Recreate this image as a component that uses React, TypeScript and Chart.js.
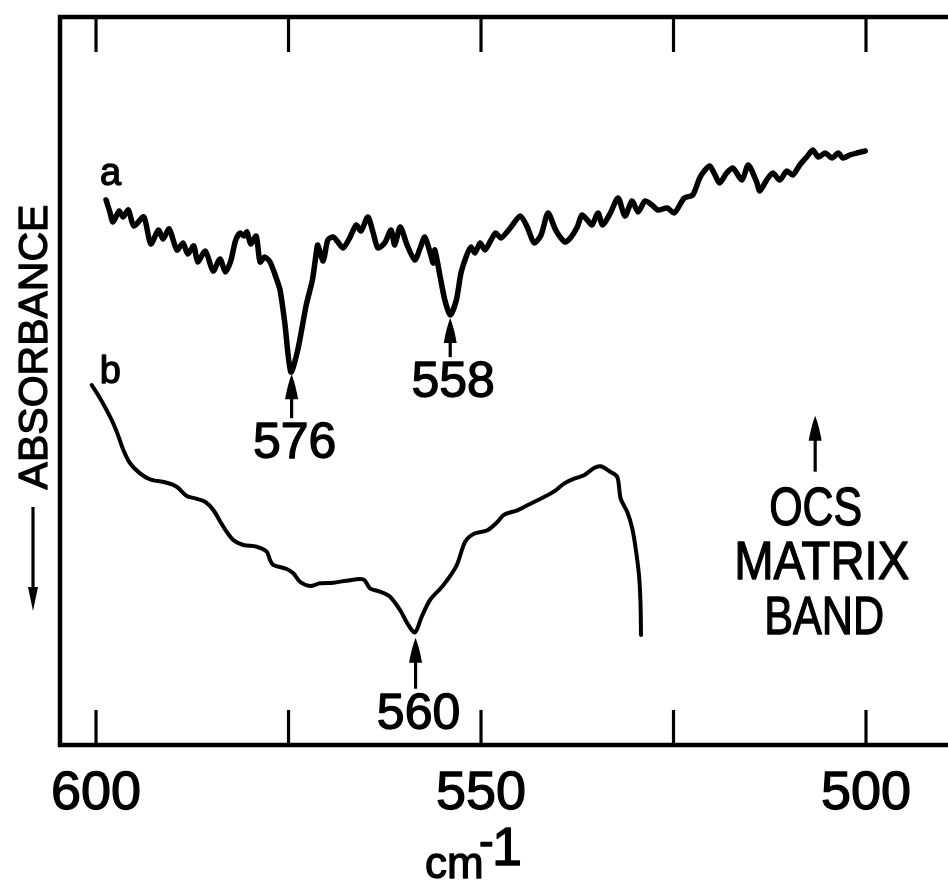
import React, { useEffect, useRef } from 'react';
import Chart from 'chart.js/auto';

// ---------- axis ----------
const TICK_VALUES = [600, 575, 550, 525, 500];
const LABELED_TICKS = [600, 550, 500];
const X_MIN = 489.35;
const X_MAX = 604.68;
const Y_MIN = 0;
const Y_MAX = 100;

// ---------- trace a (wavenumber, absorbance in arbitrary units, larger = down) ----------
const A_WN = [598.7, 598.2, 597.8, 597.0, 596.5, 595.8, 595.1, 593.8, 592.9, 591.9, 591.3, 590.5, 589.5, 588.7, 588.1, 587.3, 586.8, 585.8, 584.8, 583.9, 583.2, 582.5, 581.9, 581.3, 580.8, 580.4, 579.9, 579.2, 578.7, 578.1, 577.4, 576.6, 576.1, 575.5, 574.7, 573.8, 572.7, 571.9, 571.4, 571.2, 570.5, 569.9, 569.2, 568.6, 567.9, 567.0, 566.2, 565.6, 564.7, 564.0, 563.4, 562.5, 561.7, 561.2, 560.5, 559.6, 558.6, 557.9, 557.3, 556.6, 556.2, 556.0, 555.3, 554.7, 554.0, 553.2, 552.6, 551.9, 551.3, 550.8, 550.1, 549.5, 548.7, 548.1, 547.4, 546.2, 544.9, 544.0, 543.1, 542.2, 541.3, 540.3, 539.1, 538.4, 537.5, 536.9, 536.2, 535.6, 534.8, 534.2, 533.2, 532.2, 531.3, 530.4, 529.6, 528.7, 527.8, 527.0, 525.8, 524.9, 523.6, 522.5, 521.6, 520.9, 520.3, 519.6, 519.0, 518.1, 517.3, 516.1, 515.3, 514.2, 513.8, 512.9, 512.1, 511.2, 510.3, 509.5, 508.6, 507.7, 506.9, 506.2, 505.3, 504.4, 503.6, 503.0, 502.1, 501.2, 500.1];
const A_ABS = [25.27, 26.92, 28.30, 26.79, 27.61, 26.65, 28.85, 27.61, 31.32, 29.40, 30.63, 29.26, 32.14, 31.18, 32.69, 31.59, 33.79, 32.28, 35.03, 33.38, 35.16, 33.65, 30.91, 29.81, 30.22, 29.67, 31.32, 30.22, 33.79, 33.10, 33.79, 35.99, 37.64, 42.03, 48.90, 45.88, 39.70, 36.26, 32.55, 31.46, 33.65, 30.77, 30.36, 31.04, 31.87, 30.36, 28.71, 29.53, 27.61, 29.81, 31.87, 31.18, 29.40, 31.46, 28.98, 31.46, 33.52, 31.87, 30.36, 32.55, 33.93, 32.14, 35.85, 39.01, 41.07, 39.01, 35.30, 32.97, 31.73, 32.55, 31.18, 32.14, 30.77, 29.81, 30.49, 29.12, 27.47, 28.98, 31.18, 30.08, 27.06, 29.40, 31.04, 30.49, 28.98, 27.34, 28.02, 28.71, 27.06, 28.71, 27.06, 25.00, 27.47, 25.41, 26.92, 25.41, 25.96, 26.65, 26.37, 27.06, 25.00, 24.59, 22.25, 21.15, 20.60, 21.84, 22.94, 21.57, 20.88, 22.53, 20.47, 22.80, 24.04, 22.53, 21.57, 22.53, 21.29, 21.84, 20.47, 19.37, 18.41, 19.37, 18.82, 19.51, 18.82, 19.51, 19.09, 18.82, 18.54];

// ---------- trace b ----------
const B_WN = [600.56, 599.48, 598.18, 597.31, 596.45, 595.58, 594.29, 592.99, 590.82, 589.52, 588.22, 587.14, 585.84, 584.77, 583.47, 582.17, 580.87, 579.13, 577.83, 577.40, 576.97, 575.23, 574.38, 573.51, 572.21, 570.91, 569.18, 567.44, 565.29, 564.42, 563.12, 561.82, 560.52, 559.44, 558.57, 557.70, 556.62, 554.90, 553.16, 552.08, 550.91, 549.18, 547.88, 547.01, 545.29, 543.99, 541.82, 540.30, 539.22, 537.92, 536.62, 535.32, 534.45, 533.16, 532.30, 531.86, 531.00, 530.35, 529.91, 529.48, 529.29, 529.22];
const B_ABS = [50.69, 52.51, 55.04, 57.10, 59.62, 61.44, 62.82, 63.64, 64.11, 64.66, 65.93, 66.25, 66.72, 67.86, 70.15, 71.98, 72.66, 72.90, 73.58, 74.73, 75.41, 75.96, 76.55, 77.71, 78.30, 77.93, 77.84, 77.57, 77.38, 78.61, 79.08, 79.77, 81.59, 83.65, 84.68, 82.51, 80.22, 78.20, 75.45, 72.25, 71.11, 70.65, 69.51, 68.50, 67.90, 67.21, 66.07, 65.15, 64.24, 63.56, 63.09, 62.09, 61.85, 62.64, 63.32, 66.30, 68.13, 70.43, 73.17, 76.83, 80.49, 85.03];

// ---------- annotations ----------
const CURVE_NAMES = ['a', 'b'];
const PEAK_LABELS = ['576', '558', '560'];
const PEAK_WN = [574.6, 554.0, 558.5];
const PEAK_TIP = [49.2, 41.5, 85.4];
const OCS_LINES = ['OCS', 'MATRIX', 'BAND'];
const OCS_WN = 506.6;
const OCS_TIP = 54.9;
const Y_TITLE = 'ABSORBANCE';
const X_TITLE = 'cm';
const X_TITLE_SUP = ['-', '1'];

// ---------- style ----------
const INK = '#000000';
const FONT = '"Liberation Sans", Arial, Helvetica, sans-serif';
const STYLE = {
  peakArrowLen: [44, 39, 51],
  peakLabelGap: 40,
  ocsArrowLen: 56,
  ocsBaselines: [109, 163, 218],
  ocsDx: [0.5, 6.5, 9],
  ocsWidths: [93, 175, 120],
  textStroke: 1.3,
};

function drawUpArrow(ctx: CanvasRenderingContext2D, x: number, tip: number, len: number, headLen = 25, headW = 6.5) {
  ctx.beginPath();
  ctx.moveTo(x, tip + headLen - 4);
  ctx.lineTo(x, tip + len);
  ctx.lineWidth = 3.2;
  ctx.stroke();
  ctx.beginPath();
  ctx.moveTo(x, tip);
  ctx.quadraticCurveTo(x + headW * 0.6, tip + headLen * 0.4, x + headW, tip + headLen);
  ctx.lineTo(x - headW, tip + headLen);
  ctx.quadraticCurveTo(x - headW * 0.6, tip + headLen * 0.4, x, tip);
  ctx.closePath();
  ctx.fill();
}

function text(ctx: CanvasRenderingContext2D, s: string, x: number, y: number, maxW?: number) {
  ctx.lineWidth = STYLE.textStroke;
  ctx.lineJoin = 'round';
  if (maxW !== undefined) {
    ctx.fillText(s, x, y, maxW);
    ctx.strokeText(s, x, y, maxW);
  } else {
    ctx.fillText(s, x, y);
    ctx.strokeText(s, x, y);
  }
}

const figurePlugin = {
  id: 'figureDecor',
  beforeDatasetsDraw(chart: any) {
    const { ctx, chartArea: a } = chart;
    const x = chart.scales.x;
    ctx.save();
    ctx.strokeStyle = INK;
    ctx.lineWidth = 4.5;
    ctx.lineJoin = 'miter';
    ctx.beginPath();
    ctx.moveTo(a.right + 10, a.top + 1);
    ctx.lineTo(a.left, a.top + 1);
    ctx.lineTo(a.left, a.bottom + 1);
    ctx.lineTo(a.right + 10, a.bottom + 1);
    ctx.stroke();
    ctx.lineWidth = 3.2;
    for (const t of x.ticks) {
      const px = x.getPixelForValue(t.value);
      ctx.beginPath();
      ctx.moveTo(px, a.top);
      ctx.lineTo(px, a.top + 36);
      ctx.stroke();
      ctx.beginPath();
      ctx.moveTo(px, a.bottom);
      ctx.lineTo(px, a.bottom - 34);
      ctx.stroke();
    }
    ctx.restore();
  },
  afterDatasetsDraw(chart: any) {
    const { ctx, chartArea: a } = chart;
    const x = chart.scales.x;
    const y = chart.scales.y;
    ctx.save();
    ctx.fillStyle = INK;
    ctx.strokeStyle = INK;
    ctx.textBaseline = 'alphabetic';

    // curve names
    ctx.font = `38px ${FONT}`;
    ctx.textAlign = 'left';
    text(ctx, CURVE_NAMES[0], x.getPixelForValue(A_WN[0]) - 6, y.getPixelForValue(A_ABS[0]) - 15);
    text(ctx, CURVE_NAMES[1], x.getPixelForValue(B_WN[0]) + 8, y.getPixelForValue(B_ABS[0]) - 2);

    // peak arrows + labels
    ctx.textAlign = 'center';
    PEAK_LABELS.forEach((lab, i) => {
      const px = x.getPixelForValue(PEAK_WN[i]);
      const tip = y.getPixelForValue(PEAK_TIP[i]);
      const len = STYLE.peakArrowLen[i];
      drawUpArrow(ctx, px, tip, len);
      ctx.font = `50px ${FONT}`;
      text(ctx, lab, px + 3, tip + len + STYLE.peakLabelGap);
    });

    // OCS matrix band marker
    const ox = x.getPixelForValue(OCS_WN);
    const ot = y.getPixelForValue(OCS_TIP);
    drawUpArrow(ctx, ox, ot, STYLE.ocsArrowLen);
    ctx.font = `54px ${FONT}`;
    OCS_LINES.forEach((line, i) => {
      text(ctx, line, ox + STYLE.ocsDx[i], ot + STYLE.ocsBaselines[i], STYLE.ocsWidths[i]);
    });

    // y title (rotated) with downward arrow
    ctx.save();
    ctx.translate(a.left - 13, (a.top + a.bottom) / 2 - 33);
    ctx.rotate(-Math.PI / 2);
    ctx.font = `41px ${FONT}`;
    ctx.textAlign = 'center';
    text(ctx, Y_TITLE, 0, 0);
    ctx.restore();
    const ax = a.left - 27;
    ctx.lineWidth = 3.2;
    ctx.beginPath();
    ctx.moveTo(ax, 507);
    ctx.lineTo(ax, 592);
    ctx.stroke();
    ctx.beginPath();
    ctx.moveTo(ax, 611);
    ctx.lineTo(ax + 5, 587);
    ctx.lineTo(ax - 5, 587);
    ctx.closePath();
    ctx.fill();

    // x title cm^-1
    const cx = x.getPixelForValue(550);
    ctx.textAlign = 'left';
    ctx.font = `44px ${FONT}`;
    text(ctx, X_TITLE, cx - 56, a.bottom + 134);
    ctx.font = `44px ${FONT}`;
    text(ctx, X_TITLE_SUP[0], cx - 2, a.bottom + 112);
    ctx.font = `54px ${FONT}`;
    ctx.textAlign = 'center';
    text(ctx, X_TITLE_SUP[1], cx + 26, a.bottom + 121);
    ctx.restore();
  },
};

export default function App() {
  const ref = useRef<HTMLCanvasElement | null>(null);
  useEffect(() => {
    if (!ref.current) return;
    const chart = new Chart(ref.current, {
      type: 'line',
      data: {
        datasets: [
          {
            label: CURVE_NAMES[0],
            data: A_WN.map((w, i) => ({ x: w, y: A_ABS[i] })),
            borderColor: INK,
            borderWidth: 5.5,
            tension: 0.25,
            pointRadius: 0,
            borderCapStyle: 'round',
            borderJoinStyle: 'round',
            fill: false,
          },
          {
            label: CURVE_NAMES[1],
            data: B_WN.map((w, i) => ({ x: w, y: B_ABS[i] })),
            borderColor: INK,
            borderWidth: 4,
            tension: 0.3,
            pointRadius: 0,
            borderCapStyle: 'round',
            borderJoinStyle: 'round',
            fill: false,
          },
        ],
      },
      options: {
        animation: false,
        responsive: false,
        devicePixelRatio: 1,
        layout: { padding: { left: 60, top: 16, right: 0, bottom: 0 } },
        plugins: { legend: { display: false }, tooltip: { enabled: false } },
        scales: {
          x: {
            type: 'linear',
            position: 'bottom',
            min: X_MIN,
            max: X_MAX,
            reverse: true,
            afterBuildTicks: (s: any) => {
              s.ticks = TICK_VALUES.map((v) => ({ value: v }));
            },
            afterFit: (s: any) => {
              s.height = 140;
            },
            grid: { display: false, drawTicks: false },
            border: { display: false },
            ticks: {
              color: INK,
              font: { family: FONT, size: 54 },
              padding: 18,
              maxRotation: 0,
              autoSkip: false,
              textStrokeColor: INK,
              textStrokeWidth: 1.3,
              callback: (v: any) => (LABELED_TICKS.includes(Number(v)) ? String(v) : ''),
            },
          },
          y: {
            type: 'linear',
            display: false,
            min: Y_MIN,
            max: Y_MAX,
            reverse: true,
          },
        },
      },
      plugins: [figurePlugin],
    });
    return () => chart.destroy();
  }, []);
  return (
    <div style={{ position: 'fixed', left: 0, top: 0, width: 948, height: 884, background: '#fff', overflow: 'hidden' }}>
      <canvas ref={ref} width={948} height={884} style={{ display: 'block' }} />
    </div>
  );
}
